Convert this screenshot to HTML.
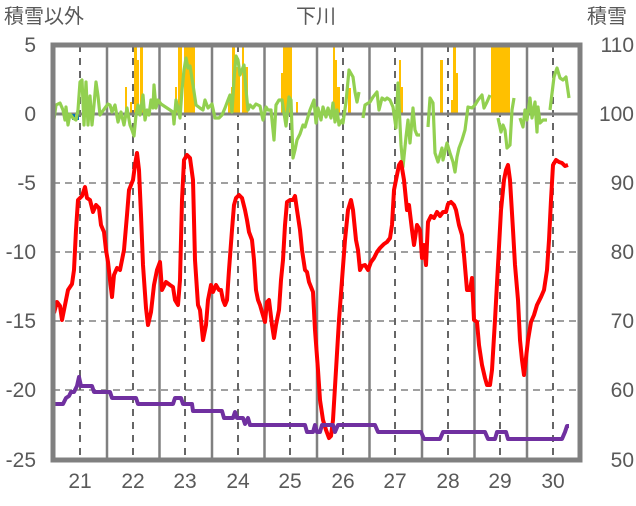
<!DOCTYPE html>
<html><head><meta charset="utf-8"><style>
body{margin:0;background:#fff}
svg text{font-family:"Liberation Sans","Noto Sans CJK JP",sans-serif;fill:#595959}
</style></head><body>
<svg width="636" height="501" viewBox="0 0 636 501" xmlns="http://www.w3.org/2000/svg">
<rect width="636" height="501" fill="#fff"/>
<g stroke="#808080" stroke-width="1.5" stroke-dasharray="7,5">
<line x1="53" y1="183" x2="580" y2="183"/><line x1="53" y1="252" x2="580" y2="252"/>
<line x1="53" y1="321" x2="580" y2="321"/><line x1="53" y1="390" x2="580" y2="390"/>
</g>
<g stroke="#808080" stroke-width="2.5">
<line x1="107" y1="45" x2="107" y2="460"/><line x1="159.5" y1="45" x2="159.5" y2="460"/>
<line x1="212" y1="45" x2="212" y2="460"/><line x1="264.5" y1="45" x2="264.5" y2="460"/>
<line x1="317" y1="45" x2="317" y2="460"/><line x1="369.5" y1="45" x2="369.5" y2="460"/>
<line x1="422" y1="45" x2="422" y2="460"/><line x1="474.5" y1="45" x2="474.5" y2="460"/>
<line x1="527" y1="45" x2="527" y2="460"/>
</g>
<g stroke="#666" stroke-width="2" stroke-dasharray="7,6">
<line x1="80" y1="45" x2="80" y2="460"/><line x1="133" y1="45" x2="133" y2="460"/>
<line x1="185" y1="45" x2="185" y2="460"/><line x1="238" y1="45" x2="238" y2="460"/>
<line x1="290" y1="45" x2="290" y2="460"/><line x1="343" y1="45" x2="343" y2="460"/>
<line x1="395" y1="45" x2="395" y2="460"/><line x1="448" y1="45" x2="448" y2="460"/>
<line x1="500" y1="45" x2="500" y2="460"/><line x1="553" y1="45" x2="553" y2="460"/>
</g>
<g fill="#FFC000">
<rect x="125" y="87" width="2" height="27"/><rect x="130" y="102" width="2" height="12"/>
<rect x="134" y="45" width="3" height="69"/><rect x="137" y="60" width="2" height="54"/>
<rect x="140" y="45" width="3" height="69"/>
<rect x="175" y="87" width="2" height="27"/><rect x="178" y="45" width="4" height="69"/>
<rect x="184" y="45" width="11" height="69"/>
<rect x="228" y="102" width="3" height="12"/><rect x="231" y="87" width="1" height="27"/>
<rect x="232" y="45" width="3" height="69"/><rect x="235" y="67" width="5" height="47"/>
<rect x="242" y="45" width="2" height="69"/><rect x="244" y="67" width="4" height="47"/>
<rect x="281" y="73" width="2" height="41"/><rect x="283" y="45" width="9" height="69"/>
<rect x="296" y="102" width="2" height="12"/>
<rect x="333" y="45" width="2" height="69"/><rect x="335" y="60" width="2" height="54"/>
<rect x="337" y="87" width="3" height="27"/><rect x="348" y="88" width="3" height="26"/>
<rect x="399" y="60" width="2" height="54"/><rect x="401" y="87" width="2" height="27"/>
<rect x="440" y="60" width="3" height="54"/><rect x="451" y="100" width="2" height="14"/>
<rect x="453" y="45" width="3" height="69"/><rect x="456" y="73" width="2" height="41"/>
<rect x="491" y="45" width="19" height="69"/>
</g>
<line x1="53" y1="114" x2="580" y2="114" stroke="#808080" stroke-width="3"/>
<rect x="72" y="114" width="3" height="6" fill="#0070C0"/><rect x="76" y="114" width="3" height="6" fill="#0070C0"/>
<g fill="none" stroke="#92D050" stroke-width="3.2" stroke-linejoin="round">
<polyline points="54,119 56,105 60,103 63,110 65,120 66,107 68,125 70,114 73,118 76,120 78,110 80,82 82,80 84,125 86,82 88,125 90,96 92,125 94,105 96,82 98,96 100,115 102,112 105,108 108,104 110,105 112,112 115,105 118,122 121,112 124,125 127,108 130,125 132,130 134,136 136,115 138,105 140,115 143,95 145,120 147,110 149,115 151,100 153,108 154,85 156,108 158,100 161,104 164,106 167,108 170,110 173,112 174,124 176,100 178,108 180,118 182,90 184,70 186,58 188,68 190,66 193,85 196,105 200,108 203,110 205,100 208,108 212,104 215,118 219,118 222,115 225,108 228,100 230,95 232,112 234,80 236,56 238,60 240,75 242,70 244,65 246,90 248,110 250,105 253,108 256,104 258,105 260,106 263,120 266,107 268,110 271,110 274,140 276,105 279,100 282,100 286,126 289,97 291,100 293,158 295,150 297,140 300,134 303,125 305,127 310,110 314,100 316,123 318,108 321,120 323,107 326,117 328,108 331,118 333,103 335,122 337,110 339,125 342,120 343,123 346,102 349,70 353,77 355,92 357,102 359,92"/>
<polyline points="363,118 365,105 370,102 373,97 377,92 379,110 382,98 385,100 387,98 390,100 393,107 396,128 398,83 401,145 403,167 406,137 408,120 410,143 413,108 415,130 417,135 420,135"/>
<polyline points="428,127 430,98 433,103 435,153 438,162 442,148 443,160 447,143 450,153 453,162 455,172 457,157 459,148 462,140 465,130 468,107 472,108 475,105 478,100 482,95 484,108 487,102 490,95"/>
<polyline points="498,118 501,132 503,125 505,130 507,148 510,145 512,110 514,98"/>
<polyline points="520,118 523,127 525,110 527,120 530,98 532,118 535,102 537,132 538,107 540,123 543,120 547,120"/>
<polyline points="550,110 554,77 557,68 560,78 563,80 566,77 569,98"/>
</g>
<polyline fill="none" stroke="#FF0000" stroke-width="4" stroke-linejoin="round" points="54,313 57,302 60,306 62,320 65,305 68,290 72,284 74,270 76,230 78,200 82,196 85,187 87,198 90,200 93,212 96,205 99,208 101,225 104,232 106,250 108,262 110,280 112,297 114,275 117,268 120,270 124,250 127,215 129,190 131,185 133,180 135,165 137,153 139,170 141,215 143,265 146,308 148,325 151,312 154,285 157,270 160,262 162,290 166,282 170,285 173,287 175,300 178,305 180,280 182,200 184,160 187,155 190,158 193,180 195,260 198,305 200,310 203,340 206,325 208,300 211,285 213,292 216,285 219,290 221,290 223,300 225,305 227,300 229,270 232,230 234,205 236,198 239,195 242,198 245,210 247,220 249,232 252,240 254,260 256,290 258,300 260,305 262,312 265,322 267,302 269,300 272,325 274,338 276,325 279,310 281,280 283,260 285,225 287,202 290,200 293,200 295,196 297,210 300,230 302,250 305,270 307,272 309,282 311,287 313,292 315,330 318,370 320,400 323,420 326,430 329,438 331,436 333,420 336,370 339,320 342,280 345,240 348,210 351,200 353,210 356,240 358,250 360,270 362,266 365,265 368,270 371,262 374,258 377,252 380,248 384,244 387,242 390,238 392,225 394,190 397,175 399,165 401,162 404,180 407,210 409,205 412,230 414,245 417,225 420,230 422,258 424,245 426,265 428,222 431,216 434,218 437,212 440,216 443,212 446,212 448,204 451,202 454,205 456,210 459,225 462,235 464,255 467,290 470,290 472,278 474,320 477,322 479,345 482,365 485,378 487,385 490,385 492,370 495,320 498,265 501,210 504,180 506,170 508,165 510,180 513,230 515,265 518,300 520,340 522,360 524,375 526,358 528,340 531,322 534,315 537,305 541,297 544,290 547,270 549,240 551,200 553,165 556,160 559,162 562,163 565,166 568,165"/>
<polyline fill="none" stroke="#7030A0" stroke-width="4" stroke-linejoin="round" points="54,404 63,404 66,398 69,396 71,392 74,392 77,386 79,377 81,386 92,386 94,392 110,392 112,398 136,398 138,404 173,404 175,398 181,398 183,404 192,404 193,411 222,411 224,418 233,418 235,412 237,418 243,418 245,424 248,418 250,425 305,425 307,432 313,432 315,425 317,432 320,432 322,425 333,425 335,432 338,425 375,425 378,432 421,432 424,439 440,439 443,432 485,432 488,439 495,439 497,432 506,432 508,439 562,439 565,432 567,426 569,426"/>
<rect x="53" y="45" width="527" height="415" fill="none" stroke="#808080" stroke-width="5"/>
<g font-size="20">
<text x="4" y="23">積雪以外</text>
<text x="296" y="23">下川</text>
<text x="587" y="23">積雪</text>
</g>
<g font-size="21" text-anchor="end">
<text x="36" y="52">5</text><text x="36" y="121">0</text><text x="36" y="190">-5</text>
<text x="36" y="259">-10</text><text x="36" y="328">-15</text><text x="36" y="397">-20</text><text x="36" y="467">-25</text>
</g>
<g font-size="21" text-anchor="end">
<text x="634" y="52">110</text><text x="634" y="121">100</text><text x="634" y="190">90</text>
<text x="634" y="259">80</text><text x="634" y="328">70</text><text x="634" y="397">60</text><text x="634" y="467">50</text>
</g>
<g font-size="21" text-anchor="middle">
<text x="80" y="488">21</text><text x="133" y="488">22</text><text x="185" y="488">23</text>
<text x="238" y="488">24</text><text x="290" y="488">25</text><text x="343" y="488">26</text>
<text x="395" y="488">27</text><text x="448" y="488">28</text><text x="500" y="488">29</text><text x="553" y="488">30</text>
</g>
</svg>
</body></html>
